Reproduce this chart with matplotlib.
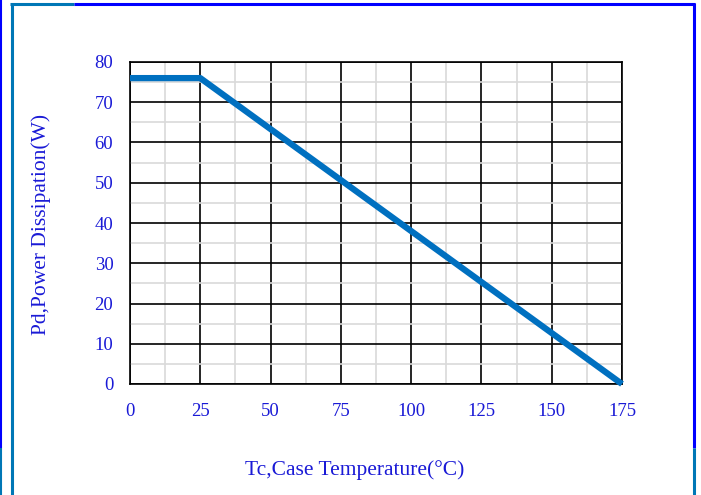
import matplotlib
matplotlib.use("Agg")
import matplotlib.pyplot as plt
from matplotlib.lines import Line2D
from matplotlib.ticker import MultipleLocator

temp_c = [0, 25, 175]
power_w = [76, 76, 0]
x_ticks = [0, 25, 50, 75, 100, 125, 150, 175]
y_ticks = [0, 10, 20, 30, 40, 50, 60, 70, 80]

W, H = 701, 495
fig = plt.figure(figsize=(W / 100, H / 100), dpi=100)
plt.rcParams['font.family'] = ['Liberation Serif', 'DejaVu Serif']
ax = fig.add_axes([130 / W, 1 - 384 / H, (622 - 130) / W, (384 - 62) / H])

ax.set_xlim(0, 175)
ax.set_ylim(0, 80)
ax.xaxis.set_major_locator(MultipleLocator(25))
ax.xaxis.set_minor_locator(MultipleLocator(12.5))
ax.yaxis.set_major_locator(MultipleLocator(10))
ax.yaxis.set_minor_locator(MultipleLocator(5))
ax.set_xticks(x_ticks)
ax.set_yticks(y_ticks)
ax.grid(which='minor', color='#d9d9d9', lw=1.2)
ax.grid(which='major', color='black', lw=1.2)
ax.set_axisbelow(True)
for s in ax.spines.values():
    s.set_color('black')
    s.set_linewidth(1.2)
ax.tick_params(which='both', length=0)
ax.tick_params(axis='x', pad=14, labelsize=13.5, labelcolor='#1a1ad6')
ax.tick_params(axis='y', pad=12, labelsize=13.5, labelcolor='#1a1ad6')

ax.plot(temp_c, power_w, color='#0070C0', lw=4.5, solid_capstyle='butt', clip_on=False, zorder=3)

fig.text(355 / W, 1 - 470 / H, 'Tc,Case Temperature(°C)', ha='center', va='center',
         fontsize=15.5, color='#1a1ad6')
fig.text(41 / W, 1 - 224 / H, 'Pd,Power Dissipation(W)', ha='center', va='center',
         rotation=90, fontsize=15.5, color='#1a1ad6')

def fline(x0, y0, x1, y1, c, lw):
    fig.add_artist(Line2D([x0 / W, x1 / W], [1 - y0 / H, 1 - y1 / H], color=c, lw=lw,
                          transform=fig.transFigure, solid_capstyle='butt'))

teal = '#0077B6'
blue = '#0000FF'
fline(11.5, 3, 11.5, 495, teal, 2.2)
fline(10, 4, 74, 4, teal, 2.2)
fline(74, 4, 695, 4, blue, 2.2)
fline(694, 3, 694, 448, blue, 2.2)
fline(694, 448, 694, 495, teal, 2.2)
fline(0.5, 0, 0.5, 448, blue, 1.5)
fline(0.5, 448, 0.5, 495, teal, 1.5)

fig.savefig('out.png', dpi=100)
